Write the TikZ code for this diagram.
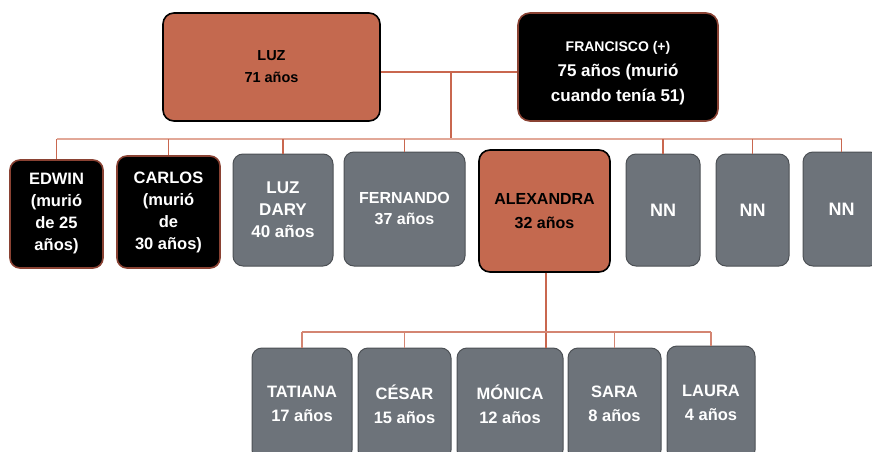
\documentclass[tikz,border=0pt]{standalone}
\usepackage{fontspec}
\setmainfont{Liberation Sans}

\definecolor{teja}{HTML}{C4694F}
\definecolor{pizarra}{HTML}{6D737A}
\definecolor{ladrillo}{HTML}{8A4233}
\definecolor{linea}{HTML}{C9674F}
\definecolor{lineaclara}{HTML}{E2A898}

\begin{document}
\begin{tikzpicture}[x=1pt,y=-1pt,every node/.style={font=\bfseries,align=center,inner sep=0pt},
  vivo/.style={draw=black,line width=1.6pt,fill=teja,text=black,rounded corners=11pt},
  muerto/.style={draw=ladrillo,line width=1.6pt,fill=black,text=white,rounded corners=10pt},
  hijo/.style={draw=pizarra!70!black,line width=1pt,fill=pizarra,text=white,rounded corners=10pt,font=\bfseries\fontsize{16.5}{24}\selectfont},
  rama/.style={linea,line width=1.2pt},
  bus/.style={lineaclara,line width=1.2pt}]
\clip (0,0) rectangle (872,452);
\useasboundingbox (0,0) rectangle (872,452);
% padres
\node[vivo,minimum width=217pt,minimum height=108pt,font=\bfseries\fontsize{14.5}{22}\selectfont] (luz) at (271.5,67) {LUZ\\71 años};
\node[muerto,rounded corners=12pt,minimum width=200pt,minimum height=108pt,font=\bfseries\fontsize{17}{25}\selectfont] (francisco) at (618,67)
  {{\fontsize{14}{18}\selectfont\rule{0pt}{22pt}FRANCISCO (+)}\\75 años (murió\\cuando tenía 51)};
% hijos
\node[muerto,minimum width=93pt,minimum height=108pt,font=\bfseries\fontsize{16.5}{22}\selectfont] (edwin) at (56.5,214) {EDWIN\\(murió\\de 25\\años)};
\node[muerto,minimum width=103pt,minimum height=112pt,font=\bfseries\fontsize{16.5}{22}\selectfont] (carlos) at (168.5,212) {CARLOS\\(murió\\de\\30 años)};
\node[hijo,minimum width=100pt,minimum height=112pt,font=\bfseries\fontsize{17}{22}\selectfont] (luzdary) at (283,210) {LUZ\\DARY\\40 años};
\node[hijo,minimum width=121pt,minimum height=114pt,font=\bfseries\fontsize{16}{21}\selectfont] (fernando) at (404.5,209) {FERNANDO\\37 años};
\node[vivo,minimum width=131pt,minimum height=122pt,font=\bfseries\fontsize{16}{24}\selectfont] (alexandra) at (544.5,211) {ALEXANDRA\\32 años};
\node[hijo,minimum width=74pt,minimum height=112pt,font=\bfseries\fontsize{18}{22}\selectfont] (nn1) at (663,210) {NN};
\node[hijo,minimum width=73pt,minimum height=112pt,font=\bfseries\fontsize{18}{22}\selectfont] (nn2) at (752.5,210) {NN};
\node[hijo,minimum width=77pt,minimum height=114pt,font=\bfseries\fontsize{18}{22}\selectfont] (nn3) at (841.5,209) {NN};
% nietos
\node[hijo,minimum width=100pt,minimum height=112pt] (tatiana) at (302,404) {TATIANA\\17 años};
\node[hijo,minimum width=93pt,minimum height=112pt] (cesar) at (404.5,404) {CÉSAR\\15 años};
\node[hijo,minimum width=106pt,minimum height=112pt] (monica) at (510,404) {MÓNICA\\12 años};
\node[hijo,minimum width=93pt,minimum height=112pt] (sara) at (614.5,404) {SARA\\8 años};
\node[hijo,minimum width=88pt,minimum height=114pt] (laura) at (711,403) {LAURA\\4 años};
% lineas
\coordinate (union) at (451,72);
\coordinate (barra) at (451,139);
\coordinate (barranietos) at (546,332);
\draw[rama] (luz.east |- union) -- (francisco.west |- union);
\draw[rama] (union) -- (barra);
\draw[bus] (edwin.north |- barra) -- (nn3.north |- barra);
\foreach \h in {edwin,carlos,luzdary,fernando,nn1,nn2,nn3}
  \draw[rama] (\h.north) -- (\h.north |- barra);
\draw[rama] (alexandra.north -| barranietos) -- (alexandra.north -| barranietos |- barra);
\draw[rama] (alexandra.south -| barranietos) -- (monica.north -| barranietos);
\draw[bus,linea!80] (tatiana.north |- barranietos) -- (laura.north |- barranietos);
\foreach \n in {tatiana,cesar,sara,laura}
  \draw[rama,linea!80] (\n.north) -- (\n.north |- barranietos);
\end{tikzpicture}
\end{document}
